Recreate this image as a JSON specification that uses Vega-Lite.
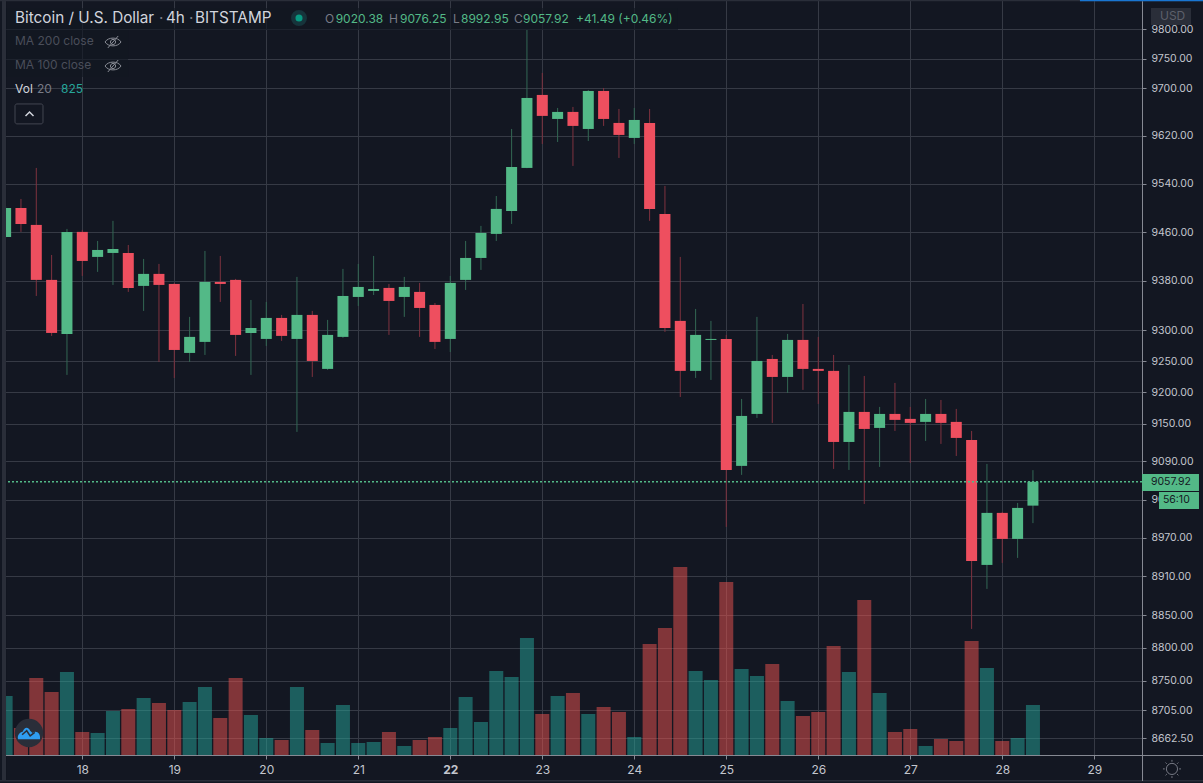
{
  "$schema": "https://vega.github.io/schema/vega-lite/v6.json",
  "width": 1142,
  "height": 755,
  "autosize": "none",
  "padding": {"left": 0, "top": 0, "right": 61, "bottom": 28},
  "background": "#131722",
  "config": {"font": "Inter", "view": {"stroke": null}},
  "datasets": {
    "candles": [
      {"t":"2020-06-17T04:00:00Z","open":9452.2,"high":9503.3,"low":9450.6,"close":9500,"volume":974},
      {"t":"2020-06-17T08:00:00Z","open":9500,"high":9514.9,"low":9460.5,"close":9473.6,"volume":446},
      {"t":"2020-06-17T12:00:00Z","open":9472,"high":9566.4,"low":9355.6,"close":9381.8,"volume":1271},
      {"t":"2020-06-17T16:00:00Z","open":9381.8,"high":9422.6,"low":9290.8,"close":9295.6,"volume":1040},
      {"t":"2020-06-17T20:00:00Z","open":9294,"high":9465.4,"low":9228,"close":9460.5,"volume":1370},
      {"t":"2020-06-18T00:00:00Z","open":9460.5,"high":9463.8,"low":9388.3,"close":9412.8,"volume":380},
      {"t":"2020-06-18T04:00:00Z","open":9419.4,"high":9445.6,"low":9394.9,"close":9430.8,"volume":363},
      {"t":"2020-06-18T08:00:00Z","open":9425.9,"high":9478.7,"low":9373.6,"close":9432.4,"volume":726},
      {"t":"2020-06-18T12:00:00Z","open":9425.9,"high":9439,"low":9362.2,"close":9368.7,"volume":759},
      {"t":"2020-06-18T16:00:00Z","open":9372,"high":9416.1,"low":9331.3,"close":9391.6,"volume":941},
      {"t":"2020-06-18T20:00:00Z","open":9391.6,"high":9407.9,"low":9248.8,"close":9373.6,"volume":858},
      {"t":"2020-06-19T00:00:00Z","open":9375.2,"high":9376.9,"low":9223.1,"close":9268.1,"volume":743},
      {"t":"2020-06-19T04:00:00Z","open":9263.3,"high":9321.6,"low":9248.8,"close":9289.2,"volume":875},
      {"t":"2020-06-19T08:00:00Z","open":9281.1,"high":9429.2,"low":9260.1,"close":9378.5,"volume":1122},
      {"t":"2020-06-19T12:00:00Z","open":9378.5,"high":9421,"low":9345.9,"close":9375.2,"volume":611},
      {"t":"2020-06-19T16:00:00Z","open":9381.8,"high":9383.4,"low":9258.5,"close":9292.4,"volume":1271},
      {"t":"2020-06-19T20:00:00Z","open":9295.6,"high":9349.1,"low":9228,"close":9303.7,"volume":660},
      {"t":"2020-06-20T00:00:00Z","open":9285.9,"high":9345.9,"low":9274.6,"close":9319.9,"volume":281},
      {"t":"2020-06-20T04:00:00Z","open":9319.9,"high":9324.8,"low":9282.7,"close":9290.8,"volume":248},
      {"t":"2020-06-20T08:00:00Z","open":9285.9,"high":9386.7,"low":9136.9,"close":9324.8,"volume":1122},
      {"t":"2020-06-20T12:00:00Z","open":9324.8,"high":9331.3,"low":9224.7,"close":9250.4,"volume":413},
      {"t":"2020-06-20T16:00:00Z","open":9237.6,"high":9316.7,"low":9236,"close":9292.4,"volume":198},
      {"t":"2020-06-20T20:00:00Z","open":9289.2,"high":9399.8,"low":9287.6,"close":9355.6,"volume":825},
      {"t":"2020-06-21T00:00:00Z","open":9354,"high":9407.9,"low":9339.4,"close":9370.3,"volume":198},
      {"t":"2020-06-21T04:00:00Z","open":9363.8,"high":9421,"low":9357.2,"close":9367,"volume":215},
      {"t":"2020-06-21T08:00:00Z","open":9368.7,"high":9375.2,"low":9292.4,"close":9347.5,"volume":380},
      {"t":"2020-06-21T12:00:00Z","open":9354,"high":9386.7,"low":9321.6,"close":9370.3,"volume":149},
      {"t":"2020-06-21T16:00:00Z","open":9362.2,"high":9376.9,"low":9289.2,"close":9336.1,"volume":248},
      {"t":"2020-06-21T20:00:00Z","open":9341,"high":9344.2,"low":9269.7,"close":9281.1,"volume":297},
      {"t":"2020-06-22T00:00:00Z","open":9285.9,"high":9388.3,"low":9264.9,"close":9376.9,"volume":446},
      {"t":"2020-06-22T04:00:00Z","open":9381.8,"high":9445.6,"low":9365.4,"close":9417.7,"volume":957},
      {"t":"2020-06-22T08:00:00Z","open":9417.7,"high":9470.4,"low":9398.1,"close":9458.8,"volume":545},
      {"t":"2020-06-22T12:00:00Z","open":9457.2,"high":9519.8,"low":9445.6,"close":9498.4,"volume":1386},
      {"t":"2020-06-22T16:00:00Z","open":9495,"high":9631.5,"low":9473.6,"close":9568,"volume":1287},
      {"t":"2020-06-22T20:00:00Z","open":9566.4,"high":9798.8,"low":9566,"close":9683.6,"volume":1931},
      {"t":"2020-06-23T00:00:00Z","open":9688.7,"high":9725.9,"low":9606.4,"close":9653.4,"volume":677},
      {"t":"2020-06-23T04:00:00Z","open":9648.3,"high":9666.8,"low":9609.7,"close":9660.1,"volume":974},
      {"t":"2020-06-23T08:00:00Z","open":9660.1,"high":9668.5,"low":9569.7,"close":9636.6,"volume":1023},
      {"t":"2020-06-23T12:00:00Z","open":9631.5,"high":9697.1,"low":9611.4,"close":9695.4,"volume":677},
      {"t":"2020-06-23T16:00:00Z","open":9695.4,"high":9700.5,"low":9636.6,"close":9648.3,"volume":792},
      {"t":"2020-06-23T20:00:00Z","open":9641.6,"high":9665.1,"low":9583,"close":9621.5,"volume":710},
      {"t":"2020-06-24T00:00:00Z","open":9616.5,"high":9666.8,"low":9606.4,"close":9646.6,"volume":297},
      {"t":"2020-06-24T04:00:00Z","open":9641.6,"high":9665.1,"low":9478.7,"close":9498.4,"volume":1832},
      {"t":"2020-06-24T08:00:00Z","open":9490.1,"high":9536.5,"low":9297.3,"close":9303.7,"volume":2096},
      {"t":"2020-06-24T12:00:00Z","open":9315.1,"high":9419.4,"low":9192.6,"close":9234.4,"volume":3102},
      {"t":"2020-06-24T16:00:00Z","open":9234.4,"high":9334.5,"low":9223.1,"close":9292.4,"volume":1386},
      {"t":"2020-06-24T20:00:00Z","open":9284.3,"high":9315.1,"low":9219.9,"close":9285.9,"volume":1238},
      {"t":"2020-06-25T00:00:00Z","open":9285.9,"high":9292.4,"low":8987.1,"close":9076.6,"volume":2855},
      {"t":"2020-06-25T04:00:00Z","open":9083,"high":9189.4,"low":9068.8,"close":9162.3,"volume":1419},
      {"t":"2020-06-25T08:00:00Z","open":9165.5,"high":9321.6,"low":9159.1,"close":9250.4,"volume":1304},
      {"t":"2020-06-25T12:00:00Z","open":9253.6,"high":9260.1,"low":9151.2,"close":9224.7,"volume":1502},
      {"t":"2020-06-25T16:00:00Z","open":9224.7,"high":9294,"low":9199,"close":9284.3,"volume":891},
      {"t":"2020-06-25T20:00:00Z","open":9284.3,"high":9342.6,"low":9203.9,"close":9237.6,"volume":644},
      {"t":"2020-06-26T00:00:00Z","open":9237.6,"high":9289.2,"low":9181.4,"close":9234.4,"volume":710},
      {"t":"2020-06-26T04:00:00Z","open":9234.4,"high":9260.1,"low":9078.2,"close":9120.9,"volume":1799},
      {"t":"2020-06-26T08:00:00Z","open":9120.9,"high":9244,"low":9076.6,"close":9168.7,"volume":1370},
      {"t":"2020-06-26T12:00:00Z","open":9168.7,"high":9226.3,"low":9023,"close":9141.6,"volume":2558},
      {"t":"2020-06-26T16:00:00Z","open":9143.2,"high":9176.7,"low":9081.4,"close":9165.5,"volume":1023},
      {"t":"2020-06-26T20:00:00Z","open":9165.5,"high":9215.1,"low":9138.4,"close":9156,"volume":380},
      {"t":"2020-06-27T00:00:00Z","open":9157.6,"high":9176.7,"low":9087.7,"close":9151.2,"volume":429},
      {"t":"2020-06-27T04:00:00Z","open":9152.8,"high":9189.4,"low":9122.5,"close":9165.5,"volume":149},
      {"t":"2020-06-27T08:00:00Z","open":9165.5,"high":9187.8,"low":9117.8,"close":9151.2,"volume":264},
      {"t":"2020-06-27T12:00:00Z","open":9152.8,"high":9173.5,"low":9098.7,"close":9127.3,"volume":231},
      {"t":"2020-06-27T16:00:00Z","open":9124.1,"high":9138.4,"low":8828.9,"close":8934,"volume":1881},
      {"t":"2020-06-27T20:00:00Z","open":8927.8,"high":9086.1,"low":8890.6,"close":9009,"volume":1436},
      {"t":"2020-06-28T00:00:00Z","open":9009,"high":9010.5,"low":8930.9,"close":8968.3,"volume":231},
      {"t":"2020-06-28T04:00:00Z","open":8968.3,"high":9024.6,"low":8938.7,"close":9016.8,"volume":281},
      {"t":"2020-06-28T08:00:00Z","open":9020.38,"high":9076.25,"low":8992.95,"close":9057.92,"volume":825}
    ],
    "panels": [
      {"t":"2020-06-17T04:06:00Z","t2":"2020-06-24T11:24:00Z","p":9836.4,"p2":9798.8,"role":"veil"},
      {"t":"2020-06-17T04:06:00Z","t2":"2020-06-18T11:56:00Z","p":9798.8,"p2":9719.1,"role":"veil"},
      {"t":"2020-06-17T02:32:00Z","t2":"2020-06-17T04:06:00Z","p":9850.1,"p2":8595.4,"role":"bg"},
      {"t":"2020-06-17T03:03:00Z","t2":"2020-06-17T04:06:00Z","p":9850.1,"p2":8598.4,"role":"chrome"},
      {"t":"2020-06-17T02:32:00Z","t2":"2020-06-30T04:22:00Z","p":9850.1,"p2":9847.9,"role":"chrome"},
      {"t":"2020-06-28T20:16:00Z","t2":"2020-06-30T04:22:00Z","p":9850.1,"p2":9847.9,"role":"blue"},
      {"t":"2020-06-17T02:32:00Z","t2":"2020-06-30T04:22:00Z","p":8599.9,"p2":8597.6,"role":"chrome"},
      {"t":"2020-06-29T12:27:00Z","t2":"2020-06-29T12:43:00Z","p":8637.3,"p2":8598.4,"role":"axis"},
      {"t":"2020-06-29T12:27:00Z","t2":"2020-06-30T04:22:00Z","p":8637.3,"p2":8635.8,"role":"axis"},
      {"t":"2020-06-29T14:47:00Z","t2":"2020-06-30T01:14:00Z","p":9836.4,"p2":9807.3,"role":"chrome"},
      {"t":"2020-06-29T12:27:00Z","t2":"2020-06-30T03:19:00Z","p":9070.3,"p2":9043.5,"role":"up"},
      {"t":"2020-06-29T16:53:00Z","t2":"2020-06-30T03:19:00Z","p":9041.9,"p2":9015.2,"role":"up"}
    ],
    "titleLabels": [
      {"t":"2020-06-17T06:27:00Z","p":9819.3,"text":"Bitcoin / U.S. Dollar","role":"title"},
      {"t":"2020-06-18T20:01:00Z","p":9819.3,"text":"·","role":"gray"},
      {"t":"2020-06-18T21:50:00Z","p":9819.3,"text":"4h","role":"title"},
      {"t":"2020-06-19T03:50:00Z","p":9819.3,"text":"·","role":"gray"},
      {"t":"2020-06-19T05:24:00Z","p":9819.3,"text":"BITSTAMP","role":"title"}
    ],
    "legendLabels": [
      {"t":"2020-06-20T15:19:00Z","p":9817.6,"text":"O","role":"gray"},
      {"t":"2020-06-20T18:06:00Z","p":9817.6,"text":"9020.38","role":"up"},
      {"t":"2020-06-21T08:01:00Z","p":9817.6,"text":"H","role":"gray"},
      {"t":"2020-06-21T10:53:00Z","p":9817.6,"text":"9076.25","role":"up"},
      {"t":"2020-06-22T00:42:00Z","p":9817.6,"text":"L","role":"gray"},
      {"t":"2020-06-22T02:47:00Z","p":9817.6,"text":"8992.95","role":"up"},
      {"t":"2020-06-22T16:37:00Z","p":9817.6,"text":"C","role":"gray"},
      {"t":"2020-06-22T18:58:00Z","p":9817.6,"text":"9057.92","role":"up"},
      {"t":"2020-06-23T08:47:00Z","p":9817.6,"text":"+41.49 (+0.46%)","role":"up"},
      {"t":"2020-06-17T06:27:00Z","p":9780.1,"text":"MA 200 close","role":"muted"},
      {"t":"2020-06-17T06:27:00Z","p":9739.3,"text":"MA 100 close","role":"muted"},
      {"t":"2020-06-17T06:27:00Z","p":9698.7,"text":"Vol","role":"title"},
      {"t":"2020-06-17T12:11:00Z","p":9698.7,"text":"20","role":"gray"},
      {"t":"2020-06-17T18:27:00Z","p":9698.7,"text":"825","role":"teal"},
      {"t":"2020-06-29T17:08:00Z","p":9821.9,"text":"USD","role":"badge"}
    ],
    "scaleLabels": [
      {"t":"2020-06-29T14:47:00Z","p":9057.92,"text":"9057.92","role":"dark"},
      {"t":"2020-06-29T17:55:00Z","p":9029.3,"text":"56:10","role":"dark"}
    ]
  },
  "resolve": {"scale": {"y": "independent"}},
  "layer": [
    {
      "data": {"name": "candles"},
      "mark": {"type": "bar", "size": 14, "opacity": 0.5},
      "encoding": {
        "x": {
          "field": "t",
          "type": "temporal",
          "title": null,
          "scale": {
            "type": "utc",
            "padding": 0,
            "domain": [
              {"year": 2020, "month": 6, "date": 17, "hours": 2, "minutes": 32, "utc": true},
              {"year": 2020, "month": 6, "date": 29, "hours": 12, "minutes": 27, "utc": true}
            ]
          },
          "axis": {
            "title": null,
            "values": [
              {"year": 2020, "month": 6, "date": 18, "utc": true},
              {"year": 2020, "month": 6, "date": 19, "utc": true},
              {"year": 2020, "month": 6, "date": 20, "utc": true},
              {"year": 2020, "month": 6, "date": 21, "utc": true},
              {"year": 2020, "month": 6, "date": 22, "utc": true},
              {"year": 2020, "month": 6, "date": 23, "utc": true},
              {"year": 2020, "month": 6, "date": 24, "utc": true},
              {"year": 2020, "month": 6, "date": 25, "utc": true},
              {"year": 2020, "month": 6, "date": 26, "utc": true},
              {"year": 2020, "month": 6, "date": 27, "utc": true},
              {"year": 2020, "month": 6, "date": 28, "utc": true},
              {"year": 2020, "month": 6, "date": 29, "utc": true}
            ],
            "format": "%-d",
            "grid": true,
            "gridColor": "#363a45",
            "domainColor": "#868993",
            "tickColor": "#868993",
            "tickSize": 4,
            "labelColor": "#c3c6ce",
            "labelFontSize": 12,
            "labelPadding": 5,
            "labelAngle": 0,
            "labelFontWeight": {"condition": {"test": "utcdate(datum.value) == 22", "value": "bold"}, "value": "normal"}
          }
        },
        "y": {
          "field": "volume",
          "type": "quantitative",
          "title": null,
          "scale": {"domain": [0, 12457.5], "nice": false, "zero": true},
          "axis": null
        },
        "color": {"condition": {"test": "datum.close >= datum.open", "value": "#26a69a"}, "value": "#ef5350"}
      }
    },
    {
      "layer": [
        {
          "data": {"name": "candles"},
          "mark": {"type": "rule", "strokeWidth": 1},
          "encoding": {
            "x": {"field": "t", "type": "temporal", "title": null},
            "y": {
              "field": "low",
              "type": "quantitative",
              "title": null,
              "scale": {"type": "log", "domain": [8637.3, 9850.1], "nice": false, "zero": false},
              "axis": {
                "title": null,
                "orient": "right",
                "values": [9800, 9750, 9700, 9620, 9540, 9460, 9380, 9300, 9250, 9200, 9150, 9090, 9030, 8970, 8910, 8850, 8800, 8750, 8705, 8662.5],
                "format": ".2f",
                "grid": true,
                "gridColor": "#363a45",
                "domainColor": "#868993",
                "tickColor": "#868993",
                "tickSize": 4,
                "labelColor": "#c3c6ce",
                "labelFontSize": 10.5,
                "labelPadding": 5
              }
            },
            "y2": {"field": "high"},
            "color": {"condition": {"test": "datum.close >= datum.open", "value": "#336854"}, "value": "#7f323f"}
          }
        },
        {
          "data": {"name": "candles"},
          "mark": {"type": "bar", "size": 11},
          "encoding": {
            "x": {"field": "t", "type": "temporal", "title": null},
            "y": {"field": "open", "type": "quantitative", "title": null},
            "y2": {"field": "close"},
            "color": {"condition": {"test": "datum.close >= datum.open", "value": "#53b987"}, "value": "#ee4f5f"}
          }
        },
        {
          "data": {"values": [{"last": 9057.92}]},
          "mark": {"type": "rule", "strokeWidth": 1.6, "strokeDash": [2, 2]},
          "encoding": {
            "y": {"field": "last", "type": "quantitative", "title": null},
            "color": {"value": "#53b987"}
          }
        },
        {
          "data": {"name": "panels"},
          "mark": {"type": "rect"},
          "encoding": {
            "x": {"field": "t", "type": "temporal", "title": null},
            "x2": {"field": "t2"},
            "y": {"field": "p", "type": "quantitative", "title": null},
            "y2": {"field": "p2"},
            "color": {
              "field": "role",
              "type": "nominal",
              "legend": null,
              "scale": {
                "domain": ["title", "gray", "muted", "up", "teal", "dark", "badge", "veil", "bg", "chrome", "blue", "axis"],
                "range": ["#d1d4dc", "#787b86", "#4a4e5a", "#53b987", "#26a69a", "#131722", "#5d606b", "rgba(19,23,34,0.65)", "#131722", "#2a2e39", "#1976d2", "#868993"]
              }
            }
          }
        },
        {
          "data": {"values": [{"t": "2020-06-17T06:27:00Z", "t2": "2020-06-17T13:45:00Z", "p": 9673.5, "p2": 9640}]},
          "mark": {"type": "rect", "fillOpacity": 0, "stroke": "#434651", "strokeWidth": 1, "cornerRadius": 2},
          "encoding": {
            "x": {"field": "t", "type": "temporal", "title": null},
            "x2": {"field": "t2"},
            "y": {"field": "p", "type": "quantitative", "title": null},
            "y2": {"field": "p2"}
          }
        },
        {
          "data": {"values": [{"t": "2020-06-17T10:14:00Z", "p": 9656.7}]},
          "mark": {"type": "point", "shape": "M-1 0.5L0 -0.5L1 0.5", "size": 64, "filled": false, "stroke": "#d1d4dc", "strokeWidth": 1.5, "opacity": 1},
          "encoding": {
            "x": {"field": "t", "type": "temporal", "title": null},
            "y": {"field": "p", "type": "quantitative", "title": null}
          }
        },
        {
          "data": {"values": [{"t": "2020-06-18T08:01:00Z", "p": 9778.4}, {"t": "2020-06-18T08:01:00Z", "p": 9737.6}]},
          "mark": {"type": "point", "shape": "M-1 0C-0.6 -0.65 0.6 -0.65 1 0C0.6 0.65 -0.6 0.65 -1 0Z M-0.32 0A0.32 0.32 0 1 0 0.32 0A0.32 0.32 0 1 0 -0.32 0Z M-0.65 0.75L0.65 -0.75", "size": 256, "filled": false, "stroke": "#8a8d96", "strokeWidth": 1, "opacity": 1},
          "encoding": {
            "x": {"field": "t", "type": "temporal", "title": null},
            "y": {"field": "p", "type": "quantitative", "title": null}
          }
        },
        {
          "data": {"values": [{"t": "2020-06-20T08:32:00Z", "p": 9819.3}]},
          "mark": {"type": "point", "shape": "circle", "size": 254, "filled": true, "color": "#16343b", "opacity": 1},
          "encoding": {
            "x": {"field": "t", "type": "temporal", "title": null},
            "y": {"field": "p", "type": "quantitative", "title": null}
          }
        },
        {
          "data": {"values": [{"t": "2020-06-20T08:32:00Z", "p": 9819.3}]},
          "mark": {"type": "point", "shape": "circle", "size": 50, "filled": true, "color": "#089981", "opacity": 1},
          "encoding": {
            "x": {"field": "t", "type": "temporal", "title": null},
            "y": {"field": "p", "type": "quantitative", "title": null}
          }
        },
        {
          "data": {"values": [{"t": "2020-06-17T10:06:00Z", "p": 8670.4}]},
          "mark": {"type": "point", "shape": "circle", "size": 804, "filled": true, "color": "#2a2e39", "opacity": 1},
          "encoding": {
            "x": {"field": "t", "type": "temporal", "title": null},
            "y": {"field": "p", "type": "quantitative", "title": null}
          }
        },
        {
          "data": {"values": [{"t": "2020-06-17T10:06:00Z", "p": 8670.4}]},
          "mark": {"type": "point", "shape": "M-0.95 0.55C-1.05 0.2 -0.8 -0.05 -0.55 -0.1C-0.4 -0.5 -0.1 -0.6 0.1 -0.2L0.3 0C0.6 -0.3 1.05 0 0.95 0.55Z", "size": 529, "filled": true, "color": "#2f9cf0", "opacity": 1},
          "encoding": {
            "x": {"field": "t", "type": "temporal", "title": null},
            "y": {"field": "p", "type": "quantitative", "title": null}
          }
        },
        {
          "data": {"values": [{"t": "2020-06-17T10:06:00Z", "p": 8670.4}]},
          "mark": {"type": "point", "shape": "M-0.6 0.15L-0.2 -0.2L0.1 0.25L0.5 -0.05", "size": 529, "filled": false, "stroke": "#2a2e39", "strokeWidth": 1.5, "opacity": 1},
          "encoding": {
            "x": {"field": "t", "type": "temporal", "title": null},
            "y": {"field": "p", "type": "quantitative", "title": null}
          }
        },
        {
          "data": {"values": [{"t": "2020-06-29T20:16:00Z", "p": 8616.4}]},
          "mark": {"type": "point", "shape": "M-0.62 0A0.62 0.62 0 1 0 0.62 0A0.62 0.62 0 1 0 -0.62 0Z M0 -1L0 -0.8 M0 0.8L0 1 M-1 0L-0.8 0 M0.8 0L1 0 M-0.71 -0.71L-0.57 -0.57 M0.57 0.57L0.71 0.71 M-0.71 0.71L-0.57 0.57 M0.57 -0.57L0.71 -0.71", "size": 324, "filled": false, "stroke": "#787b86", "strokeWidth": 1, "opacity": 1},
          "encoding": {
            "x": {"field": "t", "type": "temporal", "title": null},
            "y": {"field": "p", "type": "quantitative", "title": null}
          }
        },
        {
          "data": {"name": "titleLabels"},
          "mark": {"type": "text", "align": "left", "baseline": "middle", "fontSize": 15.3},
          "encoding": {
            "x": {"field": "t", "type": "temporal", "title": null},
            "y": {"field": "p", "type": "quantitative", "title": null},
            "text": {"field": "text"},
            "color": {"field": "role", "type": "nominal", "legend": null}
          }
        },
        {
          "data": {"name": "legendLabels"},
          "mark": {"type": "text", "align": "left", "baseline": "middle", "fontSize": 12},
          "encoding": {
            "x": {"field": "t", "type": "temporal", "title": null},
            "y": {"field": "p", "type": "quantitative", "title": null},
            "text": {"field": "text"},
            "color": {"field": "role", "type": "nominal", "legend": null}
          }
        },
        {
          "data": {"name": "scaleLabels"},
          "mark": {"type": "text", "align": "left", "baseline": "middle", "fontSize": 10.5},
          "encoding": {
            "x": {"field": "t", "type": "temporal", "title": null},
            "y": {"field": "p", "type": "quantitative", "title": null},
            "text": {"field": "text"},
            "color": {"field": "role", "type": "nominal", "legend": null}
          }
        }
      ]
    }
  ]
}
